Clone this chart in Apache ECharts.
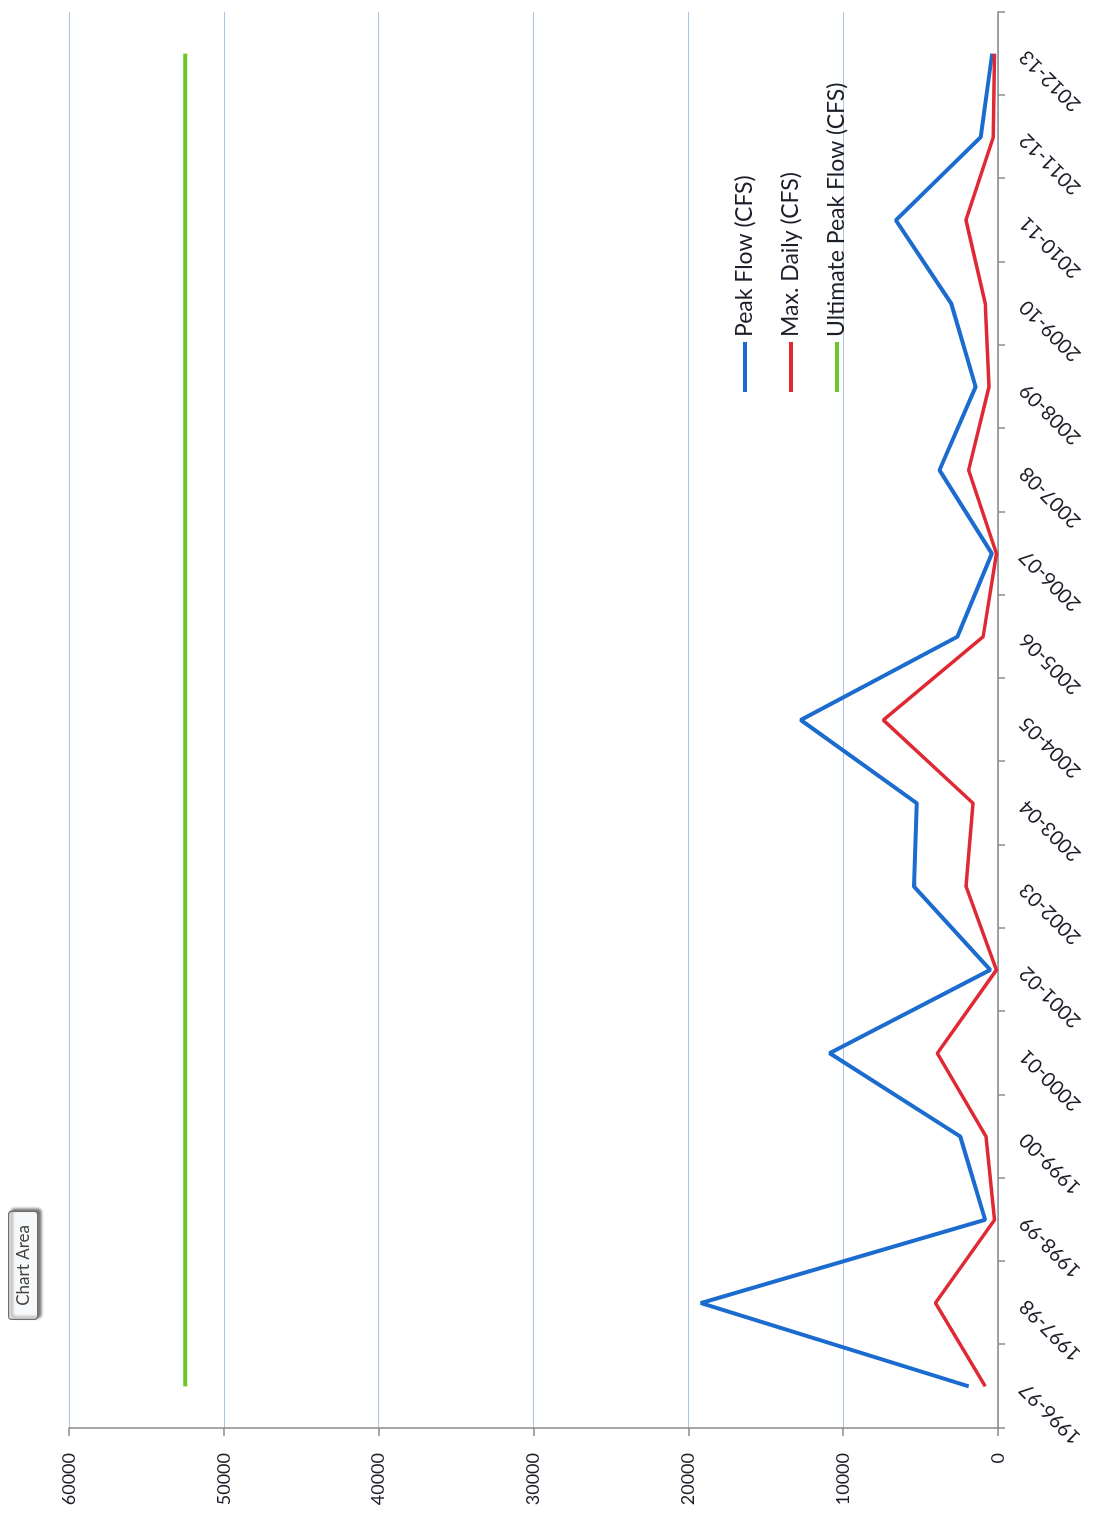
<!DOCTYPE html>
<html>
<head>
<meta charset="utf-8">
<script src="https://cdn.jsdelivr.net/npm/echarts@6/dist/echarts.min.js"></script>
<style>
  html, body { margin: 0; padding: 0; background: #ffffff; overflow: hidden; }
  #wrap { position: absolute; left: 0; top: 0; width: 1096px; height: 1520px; overflow: hidden; background: #fff; }
  #chart {
    position: absolute; left: 0; top: 0;
    width: 1520px; height: 1096px;
    transform-origin: 0 0;
    transform: translate(0px, 1520px) rotate(-90deg);
  }
</style>
</head>
<body>
<div id="wrap"><div id="chart"></div></div>
<script>
// ---- data ----
const categories = ['1996-97','1997-98','1998-99','1999-00','2000-01','2001-02','2002-03','2003-04','2004-05','2005-06','2006-07','2007-08','2008-09','2009-10','2010-11','2011-12','2012-13'];
const peakFlow   = [1890, 19190, 830, 2440, 10870, 500, 5430, 5240, 12740, 2620, 400, 3780, 1450, 3020, 6600, 1110, 380];
const maxDaily   = [830, 4040, 220, 780, 3920, 100, 2060, 1610, 7410, 960, 100, 1900, 580, 820, 2070, 300, 230];
const ultimatePeak = [52500, 52500, 52500, 52500, 52500, 52500, 52500, 52500, 52500, 52500, 52500, 52500, 52500, 52500, 52500, 52500, 52500];
const valueTicks = [0, 10000, 20000, 30000, 40000, 50000, 60000];
const seriesNames = ['Peak Flow (CFS)', 'Max. Daily (CFS)', 'Ultimate Peak Flow (CFS)'];

const FONT = 'Lato, "Open Sans", sans-serif';
const chart = echarts.init(document.getElementById('chart'), null, { renderer: 'canvas', width: 1520, height: 1096 });

chart.setOption({
  backgroundColor: '#ffffff',
  animation: false,
  textStyle: { fontFamily: FONT },
  grid: { left: 92, right: 12, top: 69, bottom: 98, containLabel: false },
  legend: {
    orient: 'vertical',
    left: 1128,
    top: 732,
    padding: 0,
    icon: 'rect',
    itemWidth: 50,
    itemHeight: 4,
    itemGap: 20,
    data: seriesNames,
    textStyle: { fontFamily: FONT, fontSize: 23, color: '#1e1e2a', lineHeight: 26 }
  },
  xAxis: {
    type: 'category',
    data: categories,
    boundaryGap: true,
    axisLine: { show: true, lineStyle: { color: '#8a8a8a', width: 1.5 } },
    axisTick: { show: true, length: 7, alignWithLabel: false, lineStyle: { color: '#8a8a8a', width: 1.5 } },
    axisLabel: { interval: 0, rotate: 45, margin: 25, fontFamily: FONT, fontSize: 20, color: '#1e1e2a' },
    splitLine: { show: false }
  },
  yAxis: {
    type: 'value',
    min: valueTicks[0],
    max: valueTicks[valueTicks.length - 1],
    interval: 10000,
    axisLine: { show: true, lineStyle: { color: '#8a8a8a', width: 1.5 } },
    axisTick: { show: true, length: 8, lineStyle: { color: '#8a8a8a', width: 1.5 } },
    axisLabel: { margin: 25, fontFamily: FONT, fontSize: 18, color: '#1e1e2a', formatter: v => String(v) },
    splitLine: { show: true, lineStyle: { color: '#a9c4e6', width: 1.2 } }
  },
  series: [
    { name: seriesNames[0], type: 'line', data: peakFlow, showSymbol: false, symbol: 'none',
      lineStyle: { color: '#1c6ccf', width: 4 }, itemStyle: { color: '#1c6ccf' }, z: 3 },
    { name: seriesNames[1], type: 'line', data: maxDaily, showSymbol: false, symbol: 'none',
      lineStyle: { color: '#df2a35', width: 3.5 }, itemStyle: { color: '#df2a35' }, z: 4 },
    { name: seriesNames[2], type: 'line', data: ultimatePeak, showSymbol: false, symbol: 'none',
      lineStyle: { color: '#6cc52b', width: 4 }, itemStyle: { color: '#6cc52b' }, z: 2 }
  ],
  graphic: [
    {
      type: 'group', left: 200, top: 8,
      children: [
        { type: 'rect', shape: { x: 0, y: 0, width: 108, height: 29, r: 3 },
          style: { fill: '#f7f8fa', stroke: '#6f6f6f', lineWidth: 1.2,
                   shadowBlur: 3, shadowOffsetX: 2, shadowOffsetY: 3, shadowColor: 'rgba(0,0,0,0.55)' } },
        { type: 'text', x: 54, y: 15,
          style: { text: 'Chart Area', fontFamily: FONT, fontSize: 17, fill: '#444', align: 'center', verticalAlign: 'middle' } }
      ]
    }
  ]
});
</script>
</body>
</html>
